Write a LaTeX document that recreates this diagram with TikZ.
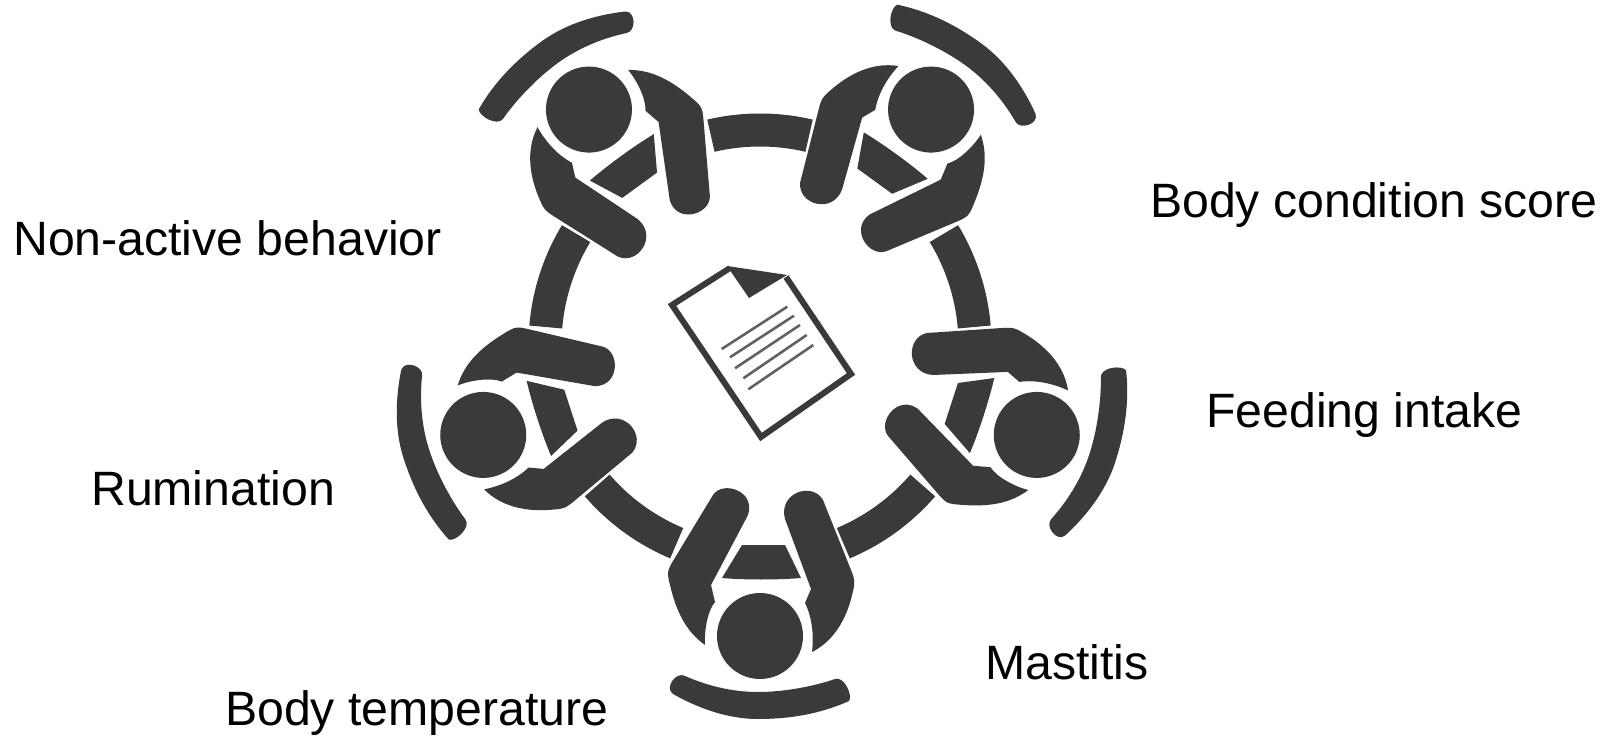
\documentclass[tikz,border=0pt]{standalone}
\usepackage{fontspec}
\setmainfont{Liberation Sans}
\definecolor{ink}{HTML}{3A3A3A}
\tikzset{
  shapefill/.style={fill=ink,draw=none},
  ringseg/.style={draw=ink,line width=33pt,line cap=butt},
  label/.style={anchor=base west,inner sep=0pt,text=black,font=\fontsize{48.2}{52}\selectfont},
  docline/.style={draw=ink!80,line width=2.6pt},
}
\begin{document}
\begin{tikzpicture}[x=1pt,y=1pt]
\useasboundingbox (0,0) rectangle (1611,737);
% table ring segments
\begin{scope}[shift={(760,392)}]
\foreach \a in {90,162,234,306,18}{
  \draw[ringseg] (\a-13.2:215) arc[start angle=\a-13.2,end angle=\a+13.2,radius=215];
}
\end{scope}
% five persons
\foreach \r in {0,72,144,216,288}{
\begin{scope}[shift={(760,392)},rotate=\r,yscale=-1]
  \fill[shapefill] (0,291) circle[radius=43];
  % table piece between the arms
  \fill[shapefill] (-18,200) .. controls (-8,200) and (14,200) .. (25,200) -- (41,233)
     .. controls (18,235) and (-16,235) .. (-38,233) -- cycle;
  % left arm
  \fill[shapefill] (-47,150) .. controls (-37,135) and (-4,146) .. (-12,170)
     -- (-49,240) -- (-45,257) .. controls (-52,265) and (-56,285) .. (-55,300)
     .. controls (-72,288) and (-83,270) .. (-90,240)
     .. controls (-93,228) and (-93,226) .. (-87,216) -- cycle;
  % right arm
  \fill[shapefill] (25,174) .. controls (18,148) and (52,136) .. (63,155)
     -- (91,225) .. controls (95,235) and (95,238) .. (93,246)
     .. controls (88,270) and (76,295) .. (52,307)
     .. controls (54,290) and (52,272) .. (45,258) -- (51,244) -- cycle;
  % seat back
  \fill[shapefill] (-75,331) .. controls (-50,342) and (-25,347) .. (-2,347)
     .. controls (25,347) and (55,341) .. (75,334)
     .. controls (84,331) and (93,350) .. (89,356)
     .. controls (60,369) and (30,374) .. (-2,374)
     .. controls (-34,374) and (-64,362) .. (-87,349)
     .. controls (-96,343) and (-84,326) .. (-75,331) -- cycle;
\end{scope}
}
% document
\begin{scope}[yshift=737pt,yscale=-1]
  \draw[ink,line width=6pt,line join=miter] (730,268) -- (672,305) -- (761,437) -- (851,374) -- (786,277);
  \fill[shapefill] (727,266) -- (787,275) -- (749,298) -- cycle;
  \draw[docline] (721.7,349) -- (787.3,306.7);
  \draw[docline] (730,357.3) -- (794,315.7);
  \draw[docline] (735,368.3) -- (800,325);
  \draw[docline] (743.3,378.3) -- (806.7,335);
  \draw[docline] (748.3,389.3) -- (813.3,345);
\end{scope}
% labels
\node[label] (nonactive) at (13,481) {Non-active behavior};
\node[label] (bcs) at (1150,519) {Body condition score};
\node[label] (feeding) at (1206,309) {Feeding intake};
\node[label] (rumination) at (91,232) {Rumination};
\node[label] (mastitis) at (985,58) {Mastitis};
\node[label] (bodytemp) at (225,12) {Body temperature};
\end{tikzpicture}
\end{document}
